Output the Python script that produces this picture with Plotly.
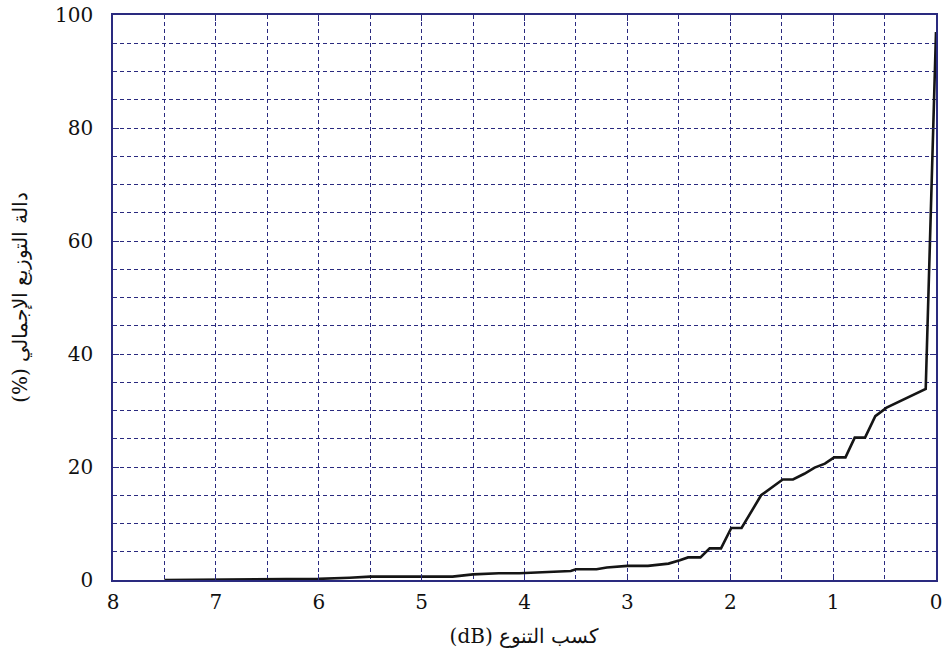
import plotly.graph_objects as go

# Diversity gain (dB) and cumulative distribution (%)
gain_db = [7.5, 7.0, 6.5, 6.0, 5.7, 5.5, 5.0, 4.7, 4.5, 4.25, 4.05, 3.75, 3.55, 3.5,
           3.3, 3.2, 3.0, 2.8, 2.6, 2.49, 2.41, 2.29, 2.2, 2.09, 1.99, 1.89, 1.7,
           1.49, 1.39, 1.28, 1.18, 1.08, 0.99, 0.88, 0.79, 0.69, 0.59, 0.48, 0.38,
           0.29, 0.1, 0.0]
cdf_pct = [0.0, 0.1, 0.2, 0.2, 0.4, 0.6, 0.6, 0.6, 1.0, 1.2, 1.2, 1.5, 1.6, 1.9,
           1.9, 2.2, 2.5, 2.5, 2.9, 3.5, 4.0, 4.0, 5.6, 5.6, 9.2, 9.2, 15.0,
           17.8, 17.8, 18.8, 19.9, 20.6, 21.7, 21.7, 25.2, 25.2, 29.0, 30.5, 31.4,
           32.2, 33.8, 97.0]

RLE, PDF = "\u202b", "\u202c"
x_title = RLE + "كسب التنوع (dB)" + PDF
y_title = RLE + "دالة التوزيع الإجمالي (%)" + PDF

navy = "#2a2a7f"
font = "DejaVu Serif"

fig = go.Figure()
fig.add_trace(go.Scatter(x=gain_db, y=cdf_pct, mode="lines",
                         line=dict(color="#151515", width=2.6), showlegend=False))

axis_common = dict(
    showline=True, linecolor=navy, linewidth=1.5, mirror="ticks",
    ticks="inside", ticklen=6, tickcolor=navy, tickwidth=1.2,
    showgrid=True, gridcolor=navy, griddash="4px,3px", gridwidth=1,
    zeroline=False,
    tickfont=dict(family=font, size=20, color="#111"),
    title_font=dict(family=font, size=20, color="#111"),
)

fig.update_xaxes(range=[8, 0], dtick=1, tick0=0,
                 minor=dict(dtick=0.5, showgrid=True, gridcolor=navy,
                            griddash="4px,3px", gridwidth=1, ticks=""),
                 title_text=x_title, title_standoff=16, ticklabelstandoff=3,
                 ticklabeloverflow="allow",
                 **axis_common)
fig.update_yaxes(range=[0, 100], dtick=20, tick0=0,
                 minor=dict(dtick=5, showgrid=True, gridcolor=navy,
                            griddash="4px,3px", gridwidth=1, ticks=""),
                 title_text=y_title, title_standoff=22, ticklabelstandoff=14,
                 **axis_common)

fig.update_layout(width=945, height=666,
                  margin=dict(l=113, r=3, t=12, b=86),
                  font=dict(family=font),
                  plot_bgcolor="white", paper_bgcolor="white")

fig.write_html("out.html")
